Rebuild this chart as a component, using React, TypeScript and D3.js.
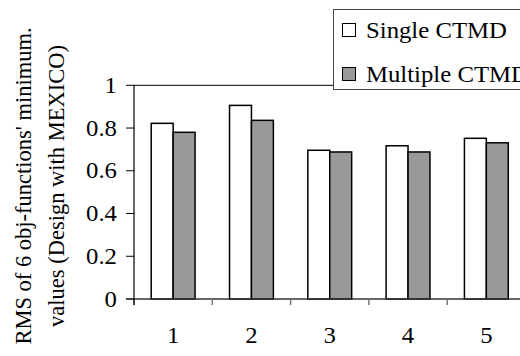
import React from "react";
import * as d3 from "d3";

const categories = ["1", "2", "3", "4", "5"];
const seriesNames = ["Single CTMD", "Multiple CTMD"];
const singleValues = [0.822, 0.906, 0.696, 0.717, 0.752];
const multipleValues = [0.78, 0.836, 0.688, 0.688, 0.731];
const yTicks = [0, 0.2, 0.4, 0.6, 0.8, 1];
const fills = ["#ffffff", "#999999"];

const width = 520;
const height = 356;
const margin = { left: 134, right: -5.5, top: 85.3, bottom: 57 };
const font = "Liberation Serif";
const fs = 22.5;
const sx = 1.1; // glyphs in the original look a bit wide

const App = () => {
  const x0 = d3.scaleBand()
    .domain(categories)
    .range([margin.left, width - margin.right])
    .paddingInner(0.44)
    .paddingOuter(0.22);
  const x1 = d3.scaleBand().domain(seriesNames).range([0, x0.bandwidth()]);
  const y = d3.scaleLinear().domain([0, 1]).range([height - margin.bottom, margin.top]);
  const step = x0.step();
  const rows = categories.map((c, i) => ({ cat: c, vals: [singleValues[i], multipleValues[i]] }));

  const Label = ({ x, y: yy, anchor, children }) => (
    <text
      transform={`translate(${x},${yy}) scale(${sx},1)`}
      textAnchor={anchor}
      fontFamily={font}
      fontSize={fs}
      fill="#000"
    >
      {children}
    </text>
  );

  return (
    <svg
      width={width}
      height={height}
      style={{ position: "absolute", left: 0, top: 0, background: "#fff" }}
    >
      {/* top line of plot frame */}
      <line x1={margin.left} x2={width} y1={y(1)} y2={y(1)} stroke="#000" strokeWidth={1} />

      {/* y axis */}
      <line x1={margin.left} x2={margin.left} y1={y(1)} y2={y(0)} stroke="#000" strokeWidth={1.2} />
      {yTicks.map(t => (
        <g key={t}>
          <line x1={margin.left - 8} x2={margin.left} y1={y(t)} y2={y(t)} stroke="#000" />
          <Label x={117} y={y(t) + 7.5} anchor="end">{d3.format("")(t)}</Label>
        </g>
      ))}

      {/* bars */}
      {rows.map(r => (
        <g key={r.cat} transform={`translate(${x0(r.cat)},0)`}>
          {r.vals.map((v, i) => (
            <rect
              key={i}
              x={x1(seriesNames[i])}
              width={x1.bandwidth()}
              y={y(v)}
              height={y(0) - y(v)}
              fill={fills[i]}
              stroke="#000"
              strokeWidth={1.5}
            />
          ))}
        </g>
      ))}

      {/* x axis */}
      <g transform={`translate(0,${y(0)})`}>
        <line x1={margin.left - 8} x2={width} stroke="#333" strokeWidth={1.5} />
        {d3.range(categories.length + 1).map(i => (
          <line
            key={i}
            x1={margin.left + i * step}
            x2={margin.left + i * step}
            y1={0}
            y2={6}
            stroke={i === 0 ? "#000" : "#777"}
            strokeWidth={1.5}
          />
        ))}
        {categories.map(c => (
          <Label key={c} x={x0(c) + x0.bandwidth() / 2} y={44} anchor="middle">{c}</Label>
        ))}
      </g>

      {/* y title */}
      <text transform="translate(0,186) rotate(-90)" textAnchor="middle" fontFamily={font} fontSize={fs}>
        <tspan x={0} y={31}>RMS of 6 obj-functions' minimum.</tspan>
        <tspan x={0} y={64}>values (Design with MEXICO)</tspan>
      </text>

      {/* legend */}
      <rect x={333.5} y={9.5} width={200} height={80} fill="#fff" stroke="#444" strokeWidth={1} />
      {seriesNames.map((s, i) => (
        <g key={s}>
          <rect x={342.5} y={23.5 + i * 44} width={13} height={13} fill={fills[i]} stroke="#000" strokeWidth={1} />
          <Label x={366} y={37.5 + i * 44} anchor="start">{s}</Label>
        </g>
      ))}
    </svg>
  );
};

export default App;
